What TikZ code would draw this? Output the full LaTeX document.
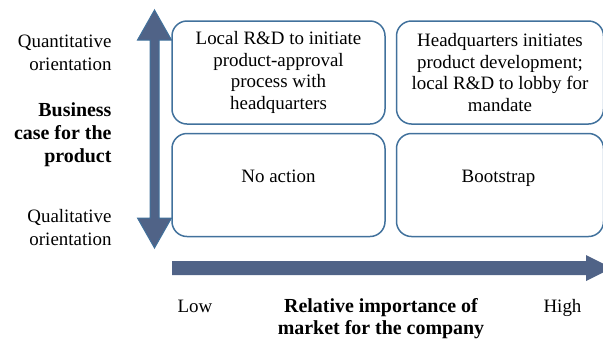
\documentclass[tikz,border=0pt]{standalone}
\usepackage{fontspec}
\setmainfont{Liberation Serif}
\usetikzlibrary{positioning}

\definecolor{boxline}{RGB}{65,113,156}
\definecolor{arrowfill}{RGB}{80,99,135}

\begin{document}
\begin{tikzpicture}[x=1bp,y=-1bp]
   \tikzset{quad/.style={draw=boxline,line width=1.5bp,rounded corners=15bp,minimum height=103bp,inner sep=0pt,align=center,font=\fontsize{19}{21.5}\selectfont}}
   \tikzset{plain/.style={align=center,font=\fontsize{19}{23}\selectfont}}
   \tikzset{heading/.style={align=center,font=\fontsize{20}{23}\selectfont\bfseries}}
   \tikzset{blockarrow/.style={fill=arrowfill,draw=boxline,line width=1bp}}
   \useasboundingbox (0,0) rectangle (603,338);
   % quadrants
   \node[quad,minimum width=213bp] (lowquant) at (278.5,72.5) {Local R\&D to initiate\\product-approval\\process with\\headquarters};
   \node[quad,minimum width=207bp,right=10bp of lowquant] (highquant) {Headquarters initiates\\product development;\\local R\&D to lobby for\\mandate};
   \node[quad,minimum width=213bp,below=8bp of lowquant] (lowqual) {};
   \node[quad,minimum width=207bp,below=8bp of highquant] (highqual) {};
   \node[plain,anchor=base] (noaction) at (278.5,182.7) {No action};
   \node[plain,anchor=base] (bootstrap) at (498.5,182.7) {Bootstrap};
   % axes
   \draw[blockarrow] (150,40) -- (137.5,40) -- (154.5,10) -- (171.5,40) -- (159,40) -- (159,218) -- (171.5,218) -- (154.5,248) -- (137.5,218) -- (150,218) -- cycle;
   \fill[arrowfill] (172,261) -- (586,261) -- (586,255) -- (612,268) -- (586,281) -- (586,275) -- (172,275) -- cycle;
   % axis labels (base = last line)
   \node[plain,align=right,anchor=base east] (quant) at (115,70) {Quantitative\\orientation};
   \node[heading,align=right,anchor=base east] (bizcase) at (115,162.3) {Business\\case for the\\product};
   \node[plain,align=right,anchor=base east] (qual) at (115,245) {Qualitative\\orientation};
   \node[plain,anchor=base] (low) at (195,312.7) {Low};
   \node[heading,anchor=base,font=\fontsize{20}{21.6}\selectfont\bfseries] (market) at (381,334.3) {Relative importance of\\market for the company};
   \node[plain,anchor=base] (high) at (562.5,312.7) {High};
\end{tikzpicture}
\end{document}
